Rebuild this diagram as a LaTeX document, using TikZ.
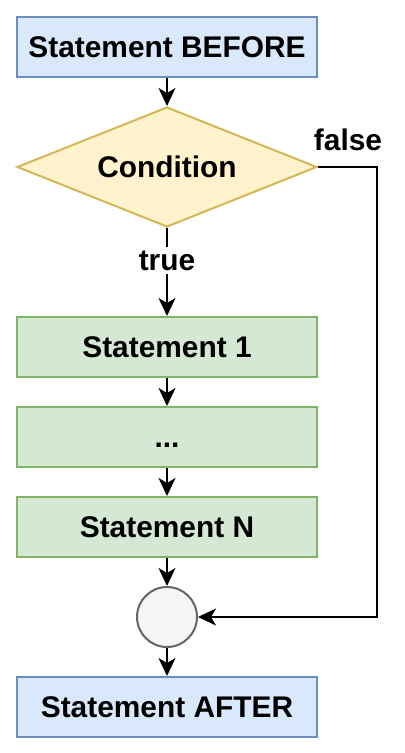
\documentclass[tikz,border=0pt]{standalone}
\usepackage{fontspec}
\setmainfont{Liberation Sans}
\usetikzlibrary{math,shapes.geometric,arrows.meta}

\definecolor{bleuFond}{HTML}{DAE8FC}
\definecolor{bleuBord}{HTML}{6C8EBF}
\definecolor{vertFond}{HTML}{D5E8D4}
\definecolor{vertBord}{HTML}{82B366}
\definecolor{jauneFond}{HTML}{FFF2CC}
\definecolor{jauneBord}{HTML}{D6B656}
\definecolor{grisFond}{HTML}{F5F5F5}
\definecolor{grisBord}{HTML}{666666}

\begin{document}
\begin{tikzpicture}[x=0.02cm, y=-0.02cm]

	\tikzmath{
		\w = 6;     % largeur des blocs (cm)
		\hb = 1.2;  % hauteur des blocs (cm)
		\xc = 167;  % axe vertical (px)
	}

	% cadre de la figure
	\useasboundingbox (0,0) rectangle (405,753);

	\tikzset{txt/.style={
				font=\fontsize{17}{20}\selectfont\bfseries,
				inner sep=0pt
			}}

	\tikzset{bloc/.style={
				txt,
				rectangle,
				line width=1.15pt,
				minimum width=\w cm,
				minimum height=\hb cm
			}}

	\tikzset{bleu/.style={bloc, fill=bleuFond, draw=bleuBord}}
	\tikzset{vert/.style={bloc, fill=vertFond, draw=vertBord}}

	\tikzset{losange/.style={
				txt,
				diamond,
				aspect=2.5,
				fill=jauneFond,
				draw=jauneBord,
				line width=1.15pt,
				minimum width=\w cm,
				minimum height=2*\hb cm
			}}

	\tikzset{jonction/.style={
				circle,
				fill=grisFond,
				draw=grisBord,
				line width=1.15pt,
				minimum size=\hb cm
			}}

	\tikzset{fleche/.style={
				draw=black,
				line width=1.15pt,
				-{Stealth[length=0.36cm, width=0.34cm, inset=0.1cm]}
			}}

	% blocs
	\node[bleu]     (avant)  at (\xc, 47)  {Statement BEFORE};
	\node[losange]  (cond)   at (\xc, 167) {Condition};
	\node[vert]     (instA)  at (\xc, 347) {Statement 1};
	\node[vert]     (points) at (\xc, 437) {\vphantom{S}...};
	\node[vert]     (instN)  at (\xc, 527) {Statement N};
	\node[jonction] (jonc)   at (\xc, 617) {};
	\node[bleu]     (apres)  at (\xc, 707) {Statement AFTER};

	\node[txt] (faux) at (348, 140) {false};
	\coordinate (coin) at (377, 167);

	% liaisons
	\draw[fleche] (avant) -- (cond);
	\draw[fleche] (cond) -- node[txt, fill=white, inner sep=2pt, pos=0.37] (vrai) {true} (instA);
	\draw[fleche] (instA) -- (points);
	\draw[fleche] (points) -- (instN);
	\draw[fleche] (instN) -- (jonc);
	\draw[fleche] (jonc) -- (apres);
	\draw[fleche] (cond.east) -- (coin) |- (jonc.east);

\end{tikzpicture}
\end{document}
